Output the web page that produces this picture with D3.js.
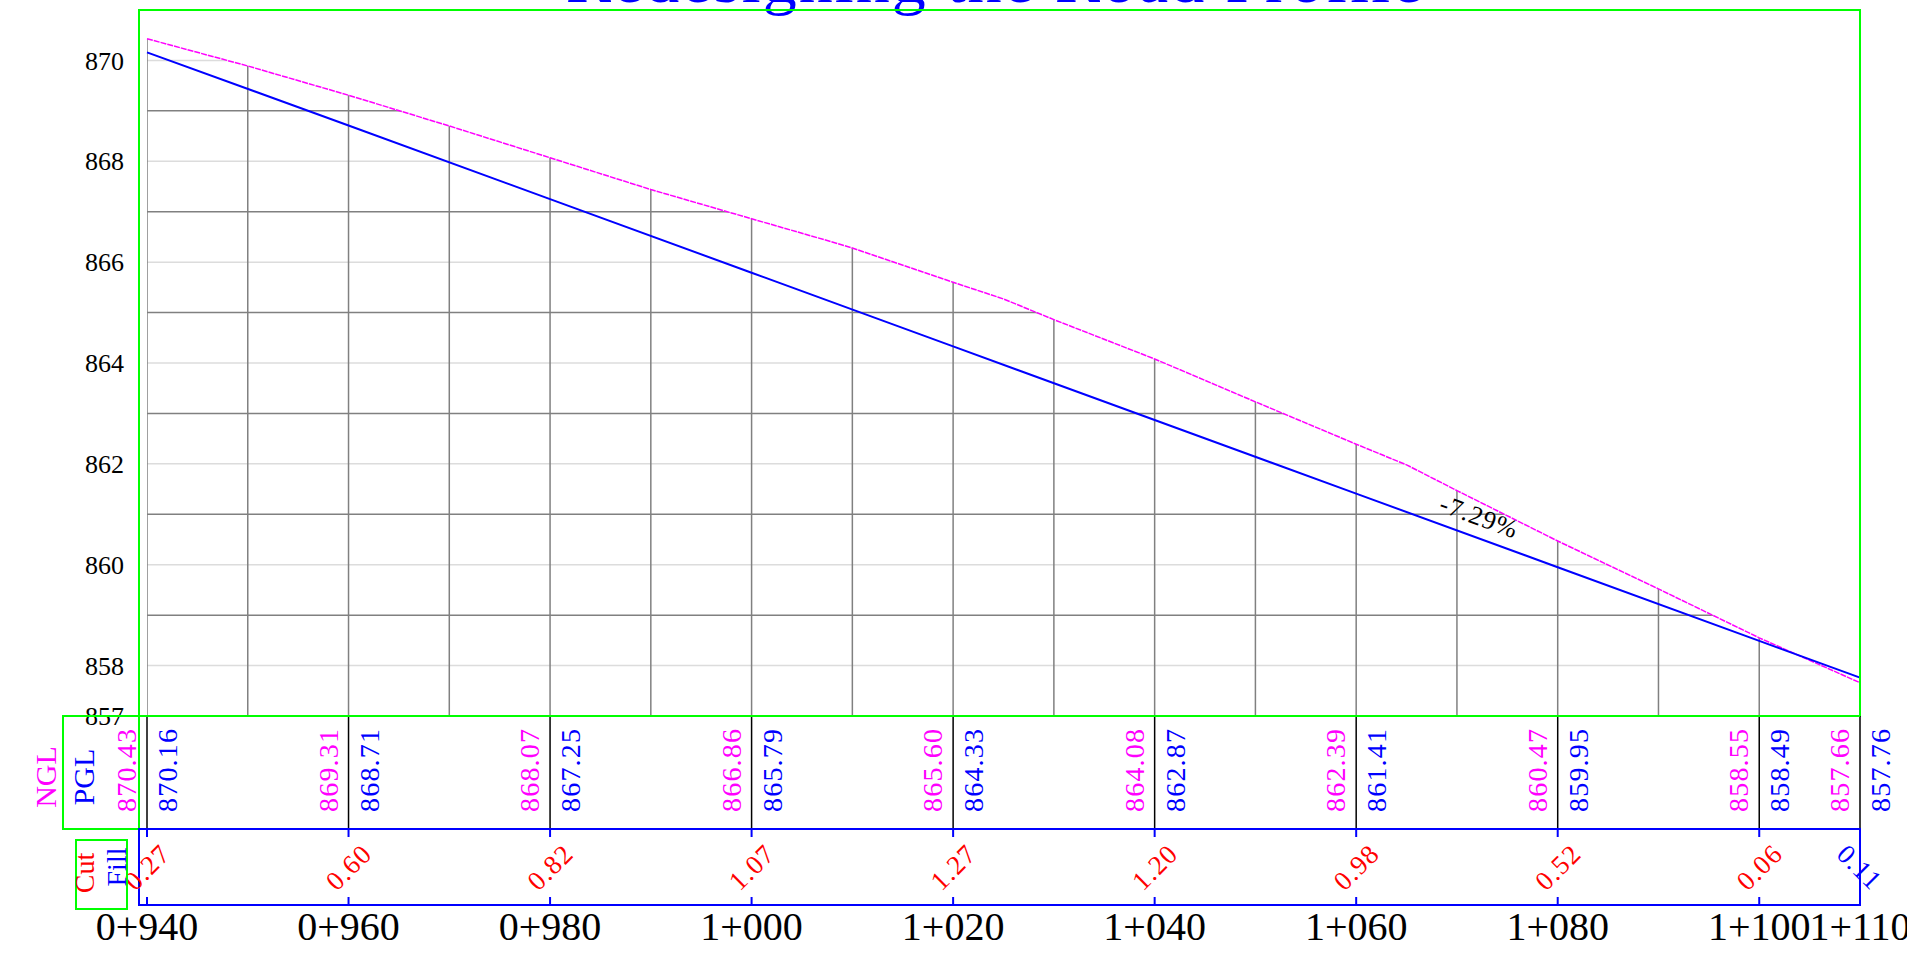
<!DOCTYPE html>
<html>
<head>
<meta charset="utf-8">
<script src="https://cdn.jsdelivr.net/npm/d3@7"></script>
<style>
  body { margin: 0; background: #ffffff; }
  text { font-family: "Liberation Serif", "DejaVu Serif", serif; }
</style>
</head>
<body>
<div id="chart"></div>
<script>
// Stations shown in the table (every 20 m + end)
var stations = [940, 960, 980, 1000, 1020, 1040, 1060, 1080, 1100, 1110];
var nglValues = [870.43, 869.31, 868.07, 866.86, 865.60, 864.08, 862.39, 860.47, 858.55, 857.66];
var pglValues = [870.16, 868.71, 867.25, 865.79, 864.33, 862.87, 861.41, 859.95, 858.49, 857.76];
var cutFillValues = [0.27, 0.60, 0.82, 1.07, 1.27, 1.20, 0.98, 0.52, 0.06, -0.11];

// Ground survey points used for the NGL line
var groundStations = [940, 950, 960, 970, 980, 990, 1000, 1008, 1010, 1020, 1025, 1030, 1040, 1050, 1060, 1065, 1070, 1080, 1090, 1100, 1110];
var groundLevels = [870.43, 869.89, 869.31, 868.70, 868.07, 867.44, 866.86, 866.40, 866.28, 865.60, 865.27, 864.86, 864.08, 863.23, 862.39, 861.98, 861.47, 860.47, 859.52, 858.55, 857.66];

var yTicks = [857, 858, 860, 862, 864, 866, 868, 870];
var gradeLabel = '-7.29%';
var titleText = 'Redesigning the Road Profile';

const width = 1907;
const height = 956;

// Scales
var scaleX = d3.scaleLinear()
  .domain([940, 1110])
  .range([147, 1860]);

var scaleY = d3.scaleLinear()
  .domain([857, 871])
  .range([716, 10]);

function stationName(s) {
  return Math.floor(s / 1000) + '+' + d3.format('03d')(s % 1000);
}

var ground = groundStations.map(function (s, i) { return { x: s, y: groundLevels[i] }; });
var grade = stations.map(function (s, i) { return { x: s, y: pglValues[i] }; });

// Create SVG
var svg = d3.select('#chart')
  .append('svg')
  .attr('width', width)
  .attr('height', height);

svg.append('rect')
  .attr('width', width)
  .attr('height', height)
  .attr('fill', '#ffffff');

// Title (mostly above the page)
svg.append('text')
  .attr('x', 995)
  .attr('y', 2)
  .attr('text-anchor', 'middle')
  .attr('font-size', 68)
  .attr('letter-spacing', 2)
  .attr('fill', '#0000ff')
  .text(titleText);

// Clip the grid to the area below the ground line
var area = d3.area()
  .x(function (d) { return scaleX(d.x); })
  .y0(scaleY(857))
  .y1(function (d) { return scaleY(d.y); });

svg.append('clipPath')
  .attr('id', 'under-ground')
  .append('path')
  .attr('d', area(ground));

var grid = svg.append('g').attr('clip-path', 'url(#under-ground)');

var evenLevels = d3.range(858, 871, 2);
var oddLevels = d3.range(859, 871, 2);
var tenMetre = d3.range(940, 1111, 10);

grid.selectAll('.light')
  .data(evenLevels)
  .enter()
  .append('line')
  .attr('x1', scaleX(940))
  .attr('x2', scaleX(1110))
  .attr('y1', function (d) { return scaleY(d); })
  .attr('y2', function (d) { return scaleY(d); })
  .attr('stroke', '#dcdcdc')
  .attr('stroke-width', 1.5);

grid.selectAll('.dark')
  .data(oddLevels)
  .enter()
  .append('line')
  .attr('x1', scaleX(940))
  .attr('x2', scaleX(1110))
  .attr('y1', function (d) { return scaleY(d); })
  .attr('y2', function (d) { return scaleY(d); })
  .attr('stroke', '#808080')
  .attr('stroke-width', 1.5);

grid.selectAll('.vert')
  .data(tenMetre)
  .enter()
  .append('line')
  .attr('x1', function (d) { return scaleX(d); })
  .attr('x2', function (d) { return scaleX(d); })
  .attr('y1', scaleY(857))
  .attr('y2', scaleY(871))
  .attr('stroke', '#808080')
  .attr('stroke-width', 1.5);

// Lines
var lineFunc = d3.line()
  .x(function (d) { return scaleX(d.x); })
  .y(function (d) { return scaleY(d.y); });

svg.append('path')
  .attr('d', lineFunc(ground))
  .attr('stroke', '#ff00ff')
  .attr('stroke-width', 1.5)
  .attr('stroke-dasharray', '6,1')
  .attr('fill', 'none');

svg.append('path')
  .attr('d', lineFunc(grade))
  .attr('stroke', '#0000ff')
  .attr('stroke-width', 2)
  .attr('fill', 'none');

// Grade label along the PGL
var gx = 1071.5;
var gy = pglValues[0] + (pglValues[stations.length - 1] - pglValues[0]) * (gx - 940) / 170;
var angle = Math.atan2(scaleY(pglValues[stations.length - 1]) - scaleY(pglValues[0]), scaleX(1110) - scaleX(940)) * 180 / Math.PI;
svg.append('text')
  .attr('transform', 'translate(' + scaleX(gx) + ',' + scaleY(gy) + ') rotate(' + angle + ')')
  .attr('y', -12)
  .attr('text-anchor', 'middle')
  .attr('font-size', 26)
  .attr('letter-spacing', 1)
  .attr('fill', '#000000')
  .text(gradeLabel);

// Y axis labels
svg.selectAll('.ytick')
  .data(yTicks)
  .enter()
  .append('text')
  .attr('x', 124)
  .attr('y', function (d) { return scaleY(d); })
  .attr('dy', '0.35em')
  .attr('text-anchor', 'end')
  .attr('font-size', 26)
  .attr('fill', '#000000')
  .text(function (d) { return d; });

// Plot border
svg.append('rect')
  .attr('x', 139)
  .attr('y', 10)
  .attr('width', 1860 - 139)
  .attr('height', 716 - 10)
  .attr('fill', 'none')
  .attr('stroke', '#00ff00')
  .attr('stroke-width', 2);

// Elevation table band
var bandTop = 716;
var bandBottom = 829;
var cutBottom = 905;

svg.selectAll('.station')
  .data(stations)
  .enter()
  .append('line')
  .attr('x1', function (d) { return scaleX(d); })
  .attr('x2', function (d) { return scaleX(d); })
  .attr('y1', bandTop)
  .attr('y2', bandBottom)
  .attr('stroke', '#000000')
  .attr('stroke-width', 1.5);

svg.append('rect')
  .attr('x', 63)
  .attr('y', bandTop)
  .attr('width', 139 - 63)
  .attr('height', bandBottom - bandTop)
  .attr('fill', 'none')
  .attr('stroke', '#00ff00')
  .attr('stroke-width', 2);

svg.append('line')
  .attr('x1', 139)
  .attr('x2', 1860)
  .attr('y1', bandTop)
  .attr('y2', bandTop)
  .attr('stroke', '#00ff00')
  .attr('stroke-width', 2);

svg.selectAll('.ngl')
  .data(nglValues)
  .enter()
  .append('text')
  .attr('transform', function (d, i) { return 'translate(' + (scaleX(stations[i]) - 11) + ',812) rotate(-90)'; })
  .attr('font-size', 28)
  .attr('letter-spacing', 1.2)
  .attr('fill', '#ff00ff')
  .text(function (d) { return d.toFixed(2); });

svg.selectAll('.pgl')
  .data(pglValues)
  .enter()
  .append('text')
  .attr('transform', function (d, i) { return 'translate(' + (scaleX(stations[i]) + 30) + ',812) rotate(-90)'; })
  .attr('font-size', 28)
  .attr('letter-spacing', 1.2)
  .attr('fill', '#0000ff')
  .text(function (d) { return d.toFixed(2); });

svg.append('text')
  .attr('transform', 'translate(56,777) rotate(-90)')
  .attr('text-anchor', 'middle')
  .attr('font-size', 30)
  .attr('fill', '#ff00ff')
  .text('NGL');

svg.append('text')
  .attr('transform', 'translate(94,777) rotate(-90)')
  .attr('text-anchor', 'middle')
  .attr('font-size', 30)
  .attr('fill', '#0000ff')
  .text('PGL');

// Cut / fill band
svg.append('rect')
  .attr('x', 139)
  .attr('y', bandBottom)
  .attr('width', 1860 - 139)
  .attr('height', cutBottom - bandBottom)
  .attr('fill', 'none')
  .attr('stroke', '#0000ff')
  .attr('stroke-width', 2);

svg.selectAll('.tickTop')
  .data(stations)
  .enter()
  .append('line')
  .attr('x1', function (d) { return scaleX(d); })
  .attr('x2', function (d) { return scaleX(d); })
  .attr('y1', bandBottom)
  .attr('y2', bandBottom + 8)
  .attr('stroke', '#0000ff')
  .attr('stroke-width', 2);

svg.selectAll('.tickBottom')
  .data(stations)
  .enter()
  .append('line')
  .attr('x1', function (d) { return scaleX(d); })
  .attr('x2', function (d) { return scaleX(d); })
  .attr('y1', cutBottom - 8)
  .attr('y2', cutBottom)
  .attr('stroke', '#0000ff')
  .attr('stroke-width', 2);

svg.selectAll('.cutfill')
  .data(cutFillValues)
  .enter()
  .append('text')
  .attr('transform', function (d, i) {
    return 'translate(' + scaleX(stations[i]) + ',867) rotate(' + (d >= 0 ? -45 : 45) + ')';
  })
  .attr('dy', '0.35em')
  .attr('text-anchor', 'middle')
  .attr('font-size', 27)
  .attr('letter-spacing', 1.2)
  .attr('fill', function (d) { return d >= 0 ? '#ff0000' : '#0000ff'; })
  .text(function (d) { return Math.abs(d).toFixed(2); });

svg.append('rect')
  .attr('x', 76)
  .attr('y', 840)
  .attr('width', 127 - 76)
  .attr('height', 909 - 840)
  .attr('fill', 'none')
  .attr('stroke', '#00ff00')
  .attr('stroke-width', 2);

svg.append('text')
  .attr('transform', 'translate(94,873) rotate(-90)')
  .attr('text-anchor', 'middle')
  .attr('font-size', 28)
  .attr('fill', '#ff0000')
  .text('Cut');

svg.append('text')
  .attr('transform', 'translate(126,867) rotate(-90)')
  .attr('text-anchor', 'middle')
  .attr('font-size', 28)
  .attr('fill', '#0000ff')
  .text('Fill');

// Station labels
svg.selectAll('.stationLabel')
  .data(stations)
  .enter()
  .append('text')
  .attr('x', function (d) { return scaleX(d); })
  .attr('y', 940)
  .attr('text-anchor', 'middle')
  .attr('font-size', 40)
  .attr('fill', '#000000')
  .text(function (d) { return stationName(d); });
</script>
</body>
</html>
